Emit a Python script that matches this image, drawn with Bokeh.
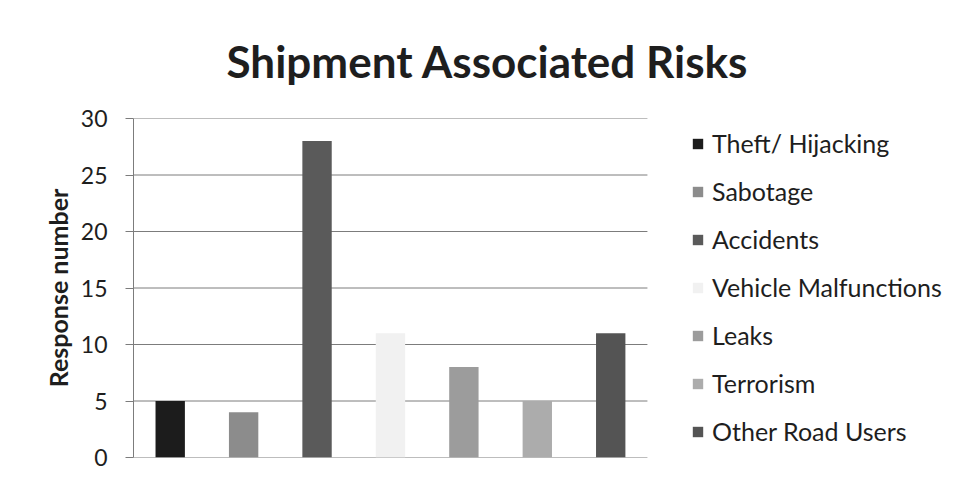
from bokeh.plotting import figure
from bokeh.models import Legend, LegendItem, ColumnDataSource, FixedTicker, Range1d
from bokeh.embed import file_html
from bokeh.resources import INLINE

categories = ["Theft/ Hijacking", "Sabotage", "Accidents", "Vehicle Malfunctions",
              "Leaks", "Terrorism", "Other Road Users"]
values = [5, 4, 28, 11, 8, 5, 11]
colors = ["#1c1c1c", "#8c8c8c", "#5a5a5a", "#f1f1f1", "#9c9c9c", "#acacac", "#545454"]
y_ticks = [0, 5, 10, 15, 20, 25, 30]

FONT = "Lato"
TXT = "#1e1e1e"
GRID = "#7c7c7c"

n = len(categories)
# category slot positions (0.5, 1.5, ...); x range leaves room for the legend
positions = [i + 0.5 for i in range(n)]

p = figure(width=945, height=476, x_range=Range1d(0, 11.06), y_range=(0, 30),
           output_backend="svg", toolbar_location=None,
           min_border_left=133, min_border_right=0, min_border_top=117,
           min_border_bottom=19)

p.title.text = "Shipment Associated Risks"
p.title.text_font = FONT
p.title.text_font_size = "44px"
p.title.text_font_style = "bold"
p.title.text_color = TXT
p.title.align = "left"
p.title.offset = 93
p.title.standoff = 64

p.outline_line_color = None
p.background_fill_color = "white"
p.border_fill_color = "white"

p.xaxis.visible = False
p.xgrid.grid_line_color = None
p.ygrid.grid_line_color = None

# horizontal gridlines spanning only the category area
p.segment(x0=[0] * len(y_ticks), x1=[n] * len(y_ticks), y0=y_ticks, y1=y_ticks,
          line_color=GRID, line_width=1)

ya = p.yaxis[0]
ya.ticker = FixedTicker(ticks=y_ticks)
ya.axis_line_color = GRID
ya.major_tick_line_color = GRID
ya.major_tick_out = 8
ya.major_tick_in = 0
ya.minor_tick_line_color = None
ya.major_label_text_font = FONT
ya.major_label_text_font_size = "23px"
ya.major_label_text_color = TXT
ya.major_label_standoff = 18
ya.axis_label = "Response number"
ya.axis_label_text_font = FONT
ya.axis_label_text_font_size = "25px"
ya.axis_label_text_font_style = "bold"
ya.axis_label_text_color = TXT
ya.axis_label_standoff = 5

items = []
for c, xpos, v, col in zip(categories, positions, values, colors):
    src = ColumnDataSource(dict(x=[xpos], top=[v]))
    r = p.vbar(x="x", top="top", width=0.4, source=src, fill_color=col,
               line_color=None)
    items.append(LegendItem(label=c, renderers=[r]))

legend = Legend(items=items, location=(558, 10))
legend.border_line_color = None
legend.background_fill_alpha = 0
legend.padding = 0
legend.margin = 0
legend.glyph_width = 13
legend.glyph_height = 13
legend.label_height = 32
legend.spacing = 16
legend.label_standoff = 8
legend.label_text_font = FONT
legend.label_text_font_size = "25px"
legend.label_text_color = TXT
p.add_layout(legend, "center")

open("out.html", "w").write(file_html(p, INLINE))
